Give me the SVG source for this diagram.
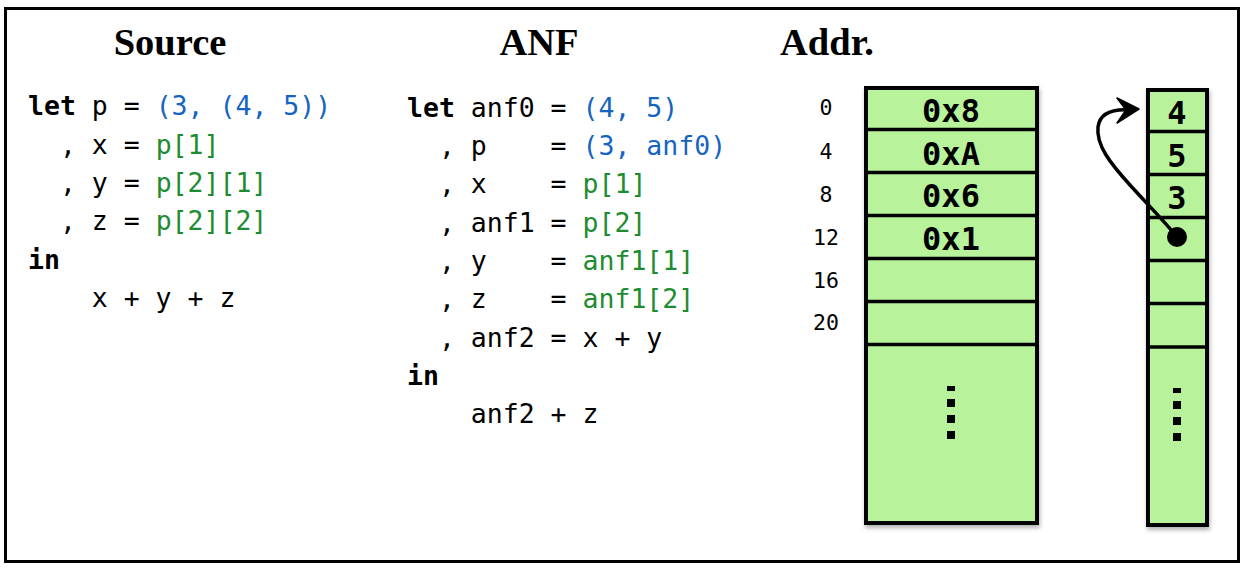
<svg xmlns="http://www.w3.org/2000/svg" width="1246" height="570" viewBox="0 0 1246 570">
<style>
.h{font-family:"Liberation Serif","Times New Roman",serif;font-weight:bold;font-size:38.5px;fill:#000}
.c{font-family:"DejaVu Sans Mono",monospace;font-size:26.5px;fill:#000}
.k{font-weight:bold}
.b{fill:#1565c0}
.g{fill:#1e8c30}
.a{font-family:"DejaVu Sans Mono",monospace;font-size:21.5px;fill:#000;text-anchor:middle}
.v{font-family:"DejaVu Sans Mono",monospace;font-size:32px;font-weight:bold;fill:#000;text-anchor:middle}
.box{fill:#b8f39b;stroke:#000;stroke-width:4}
.div{stroke:#000;stroke-width:3.5}
</style>
<defs>
<filter id="sh" x="-10%" y="-10%" width="130%" height="130%">
<feDropShadow dx="1" dy="3" stdDeviation="2" flood-color="#000" flood-opacity="0.3"/>
</filter>
</defs>
<rect x="5.5" y="8.5" width="1233" height="553" fill="#fff" stroke="#000" stroke-width="3"/>
<g id="titles">
<text class="h" x="170" y="55" text-anchor="middle">Source</text>
<text class="h" x="539" y="55" text-anchor="middle">ANF</text>
<text class="h" x="780" y="55">Addr.</text>
</g>
<g id="source" class="c">
<text x="28" y="115"><tspan class="k">let</tspan> p = <tspan class="b">(3, (4, 5))</tspan></text>
<text x="59.9" y="153.5">, x = <tspan class="g">p[1]</tspan></text>
<text x="59.9" y="192">, y = <tspan class="g">p[2][1]</tspan></text>
<text x="59.9" y="230">, z = <tspan class="g">p[2][2]</tspan></text>
<text x="28" y="268.5" class="k">in</text>
<text x="91.8" y="307">x + y + z</text>
</g>
<g id="anf" class="c">
<text x="407" y="117"><tspan class="k">let</tspan> anf0 = <tspan class="b">(4, 5)</tspan></text>
<text x="438.9" y="155">, p<tspan x="550.6">= </tspan><tspan class="b">(3, anf0)</tspan></text>
<text x="438.9" y="193">, x<tspan x="550.6">= </tspan><tspan class="g">p[1]</tspan></text>
<text x="438.9" y="232">, anf1 = <tspan class="g">p[2]</tspan></text>
<text x="438.9" y="270">, y<tspan x="550.6">= </tspan><tspan class="g">anf1[1]</tspan></text>
<text x="438.9" y="308">, z<tspan x="550.6">= </tspan><tspan class="g">anf1[2]</tspan></text>
<text x="438.9" y="347">, anf2 = x + y</text>
<text x="407" y="385" class="k">in</text>
<text x="470.8" y="423">anf2 + z</text>
</g>
<g id="addresses">
<text class="a" x="826" y="115">0</text>
<text class="a" x="826" y="159">4</text>
<text class="a" x="826" y="202">8</text>
<text class="a" x="826" y="245">12</text>
<text class="a" x="826" y="288">16</text>
<text class="a" x="826" y="330">20</text>
</g>
<g id="stack">
<rect class="box" x="866" y="88" width="171" height="435" filter="url(#sh)"/>
<line class="div" x1="866" y1="129.5" x2="1037" y2="129.5"/>
<line class="div" x1="866" y1="172.5" x2="1037" y2="172.5"/>
<line class="div" x1="866" y1="215.5" x2="1037" y2="215.5"/>
<line class="div" x1="866" y1="258.5" x2="1037" y2="258.5"/>
<line class="div" x1="866" y1="301.5" x2="1037" y2="301.5"/>
<line class="div" x1="866" y1="344.5" x2="1037" y2="344.5"/>
<text class="v" x="951" y="122">0x8</text>
<text class="v" x="951" y="165">0xA</text>
<text class="v" x="951" y="207">0x6</text>
<text class="v" x="951" y="250">0x1</text>
<rect x="947" y="386" width="8" height="5"/>
<rect x="947" y="399" width="8" height="8"/>
<rect x="947" y="415" width="8" height="8"/>
<rect x="947" y="431" width="8" height="8"/>
</g>
<g id="heap">
<rect class="box" x="1148" y="90" width="59" height="435" filter="url(#sh)"/>
<line class="div" x1="1148" y1="131.5" x2="1207" y2="131.5"/>
<line class="div" x1="1148" y1="174.5" x2="1207" y2="174.5"/>
<line class="div" x1="1148" y1="217.5" x2="1207" y2="217.5"/>
<line class="div" x1="1148" y1="260.5" x2="1207" y2="260.5"/>
<line class="div" x1="1148" y1="303.5" x2="1207" y2="303.5"/>
<line class="div" x1="1148" y1="347" x2="1207" y2="347"/>
<text class="v" x="1177" y="124">4</text>
<text class="v" x="1177" y="167">5</text>
<text class="v" x="1177" y="209">3</text>
<rect x="1173" y="388" width="8" height="5"/>
<rect x="1173" y="401" width="8" height="8"/>
<rect x="1173" y="417" width="8" height="8"/>
<rect x="1173" y="433" width="8" height="8"/>
</g>
<g id="connectors">
<path d="M1177,237 C1165,222 1150,207 1130,185 C1110,163 1096,145 1098,127 C1100,112 1115,109 1130,110" fill="none" stroke="#000" stroke-width="3.5" stroke-linecap="round"/>
<path d="M1139,109 L1117,98 L1126,110 L1117,123 Z" fill="#000" stroke="#000" stroke-width="1.5" stroke-linejoin="round"/>
<circle cx="1177" cy="237" r="10" fill="#000"/>
</g>
</svg>
